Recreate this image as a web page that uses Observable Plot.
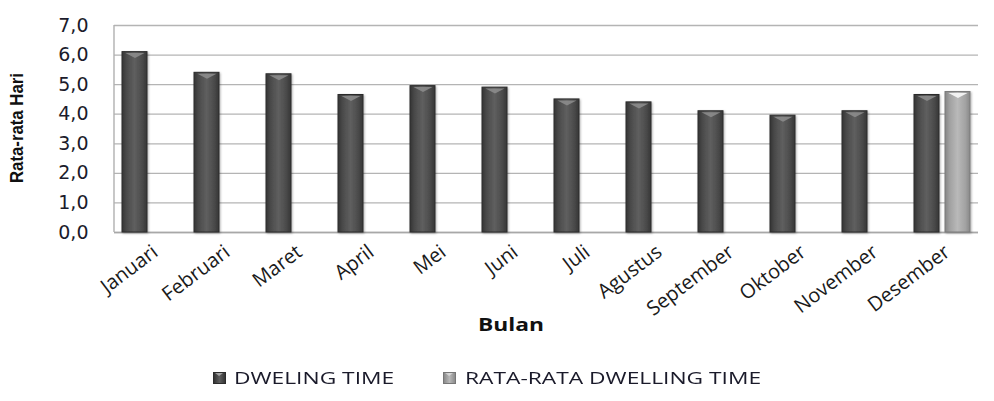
<!DOCTYPE html>
<html>
<head>
<meta charset="utf-8">
<script src="https://cdn.jsdelivr.net/npm/d3@7"></script>
<script src="https://cdn.jsdelivr.net/npm/@observablehq/plot@0.6"></script>
<style>
html,body{margin:0;padding:0;background:#fff;}
#wrap{position:relative;width:994px;height:401px;overflow:hidden;}
#legend{position:absolute;left:0;top:350px;width:994px;height:51px;}
.sw{position:absolute;top:22px;width:11px;height:10px;box-sizing:content-box;}
.sw::after{content:"";position:absolute;left:1px;top:0;border-left:4.5px solid transparent;border-right:4.5px solid transparent;border-top:3px solid rgba(255,255,255,0.45);}
.sw.dark{background:linear-gradient(90deg,#333 0%,#5e5e5e 50%,#363636 100%);border:1px solid #2c2c2c;}
.sw.light{background:linear-gradient(90deg,#8a8a8a 0%,#b8b8b8 50%,#8c8c8c 100%);border:1px solid #777;}
.lt{position:absolute;top:17px;line-height:22px;font-family:"Open Sans",sans-serif;font-size:17px;color:#1a1a2a;transform:scaleX(1.34);transform-origin:0 50%;white-space:nowrap;}
</style>
</head>
<body>
<div id="wrap">
  <div id="chart"></div>
  <div id="legend"></div>
</div>
<script>
// ---- data ----
const months = ["Januari","Februari","Maret","April","Mei","Juni","Juli","Agustus","September","Oktober","November","Desember"];
const dwellingTime = [6.1, 5.4, 5.35, 4.65, 4.95, 4.9, 4.5, 4.4, 4.1, 3.95, 4.1, 4.65];
const rataRataMonth = "Desember";
const rataRataValue = 4.75;
const seriesNames = ["DWELING TIME", "RATA-RATA DWELLING TIME"];
const yTicks = [0, 1, 2, 3, 4, 5, 6, 7];
const yLabel = "Rata-rata Hari";
const xLabel = "Bulan";

// table built from the arrays
const table = months.map((m, i) => ({month: m, series: seriesNames[0], value: dwellingTime[i]}))
  .concat([{month: rataRataMonth, series: seriesNames[1], value: rataRataValue}]);
const dw = table.filter(d => d.series === seriesNames[0]);
const rr = table.filter(d => d.series === seriesNames[1]);

const vSymbol = {draw(ctx) { ctx.moveTo(-9.5, 0); ctx.lineTo(9.5, 0); ctx.lineTo(0, 5); ctx.closePath(); }};

const W = 994, H = 350, ML = 114, MR = 16, MT = 25, MB = 118;

const plot = Plot.plot({
  width: W, height: H,
  marginLeft: ML, marginRight: MR, marginTop: MT, marginBottom: MB,
  style: {background: "#fff", fontFamily: "Open Sans, sans-serif", overflow: "visible"},
  fx: {domain: months, padding: 0, label: null, axis: null},
  x: {domain: seriesNames, paddingInner: 0.2, paddingOuter: 0.25, axis: null},
  y: {domain: [0, 7], label: null},
  marks: [
    Plot.gridY(yTicks, {stroke: "#b4b4b4", strokeOpacity: 1, strokeWidth: 1.3}),
    Plot.ruleY([0], {stroke: "#a8a8a8", strokeWidth: 1.6}),
    Plot.axisY({ticks: yTicks, tickSize: 0, tickPadding: 26, label: null,
      tickFormat: d => d.toFixed(1).replace(".", ","),
      fontSize: 19, fontFamily: "DejaVu Sans, sans-serif", fill: "#1b1b2b"}),
    Plot.axisFx({anchor: "bottom", tickSize: 0, tickPadding: 17, tickRotate: -37, label: null, dx: 5,
      fontSize: 20, fontFamily: "Open Sans, sans-serif", fill: "#1a1a1a"}),
    Plot.barY(dw, {fx: "month", x: "series", y: "value", fill: "url(#gDark)", stroke: "#2d2d2d", strokeWidth: 1}),
    Plot.barY(rr, {fx: "month", x: "series", y: "value", fill: "url(#gLight)", stroke: "#7a7a7a", strokeWidth: 1}),
    Plot.dot(dw, {fx: "month", x: "series", y: "value", symbol: vSymbol, fill: "#8e8e8e", fillOpacity: 0.85, stroke: null, dy: 1}),
    Plot.dot(rr, {fx: "month", x: "series", y: "value", symbol: vSymbol, fill: "#f4f4f4", fillOpacity: 0.95, stroke: null, dy: 1})
  ]
});

const svg = d3.select(plot);
const defs = svg.insert("defs", ":first-child");
const gd = defs.append("linearGradient").attr("id", "gDark").attr("x1", "0").attr("x2", "1").attr("y1", "0").attr("y2", "0");
[["0%", "#343434"], ["18%", "#4a4a4a"], ["50%", "#5f5f5f"], ["82%", "#4a4a4a"], ["100%", "#353535"]]
  .forEach(([o, c]) => gd.append("stop").attr("offset", o).attr("stop-color", c));
const gl = defs.append("linearGradient").attr("id", "gLight").attr("x1", "0").attr("x2", "1").attr("y1", "0").attr("y2", "0");
[["0%", "#858585"], ["18%", "#a0a0a0"], ["50%", "#b9b9b9"], ["82%", "#a2a2a2"], ["100%", "#888"]]
  .forEach(([o, c]) => gl.append("stop").attr("offset", o).attr("stop-color", c));
const f = defs.append("filter").attr("id", "shadow").attr("x", "-30%").attr("y", "-10%").attr("width", "160%").attr("height", "125%");
f.append("feDropShadow").attr("dx", 1).attr("dy", 1).attr("stdDeviation", 1.3).attr("flood-color", "#000").attr("flood-opacity", 0.3);
svg.selectAll('g[aria-label="bar"]').attr("filter", "url(#shadow)");

// left axis line from the y scale
const ys = plot.scale("y");
svg.append("line").attr("x1", ML).attr("x2", ML).attr("y1", ys.apply(7)).attr("y2", ys.apply(0))
  .attr("stroke", "#b0b0b0").attr("stroke-width", 1.4);

// axis titles
svg.append("text").text(xLabel)
  .attr("x", 511).attr("y", 326).attr("text-anchor", "middle").attr("dominant-baseline", "middle")
  .attr("font-family", "Open Sans, sans-serif").attr("font-weight", "bold").attr("font-size", 17)
  .attr("textLength", 66).attr("lengthAdjust", "spacingAndGlyphs").attr("fill", "#111");
svg.append("text").text(yLabel)
  .attr("transform", "translate(18,128) rotate(-90)").attr("text-anchor", "middle").attr("dominant-baseline", "middle")
  .attr("font-family", "Liberation Sans, Arial, sans-serif").attr("font-weight", "bold").attr("font-size", 17.5)
  .attr("textLength", 110).attr("lengthAdjust", "spacingAndGlyphs").attr("fill", "#111");

document.getElementById("chart").appendChild(plot);

// legend
const legend = d3.select("#legend");
const legendPos = [{sw: 213, tx: 234, cls: "dark"}, {sw: 443, tx: 465, cls: "light"}];
seriesNames.forEach((name, i) => {
  legend.append("div").attr("class", "sw " + legendPos[i].cls).style("left", legendPos[i].sw + "px");
  legend.append("div").attr("class", "lt").style("left", legendPos[i].tx + "px").text(name);
});
</script>
</body>
</html>
